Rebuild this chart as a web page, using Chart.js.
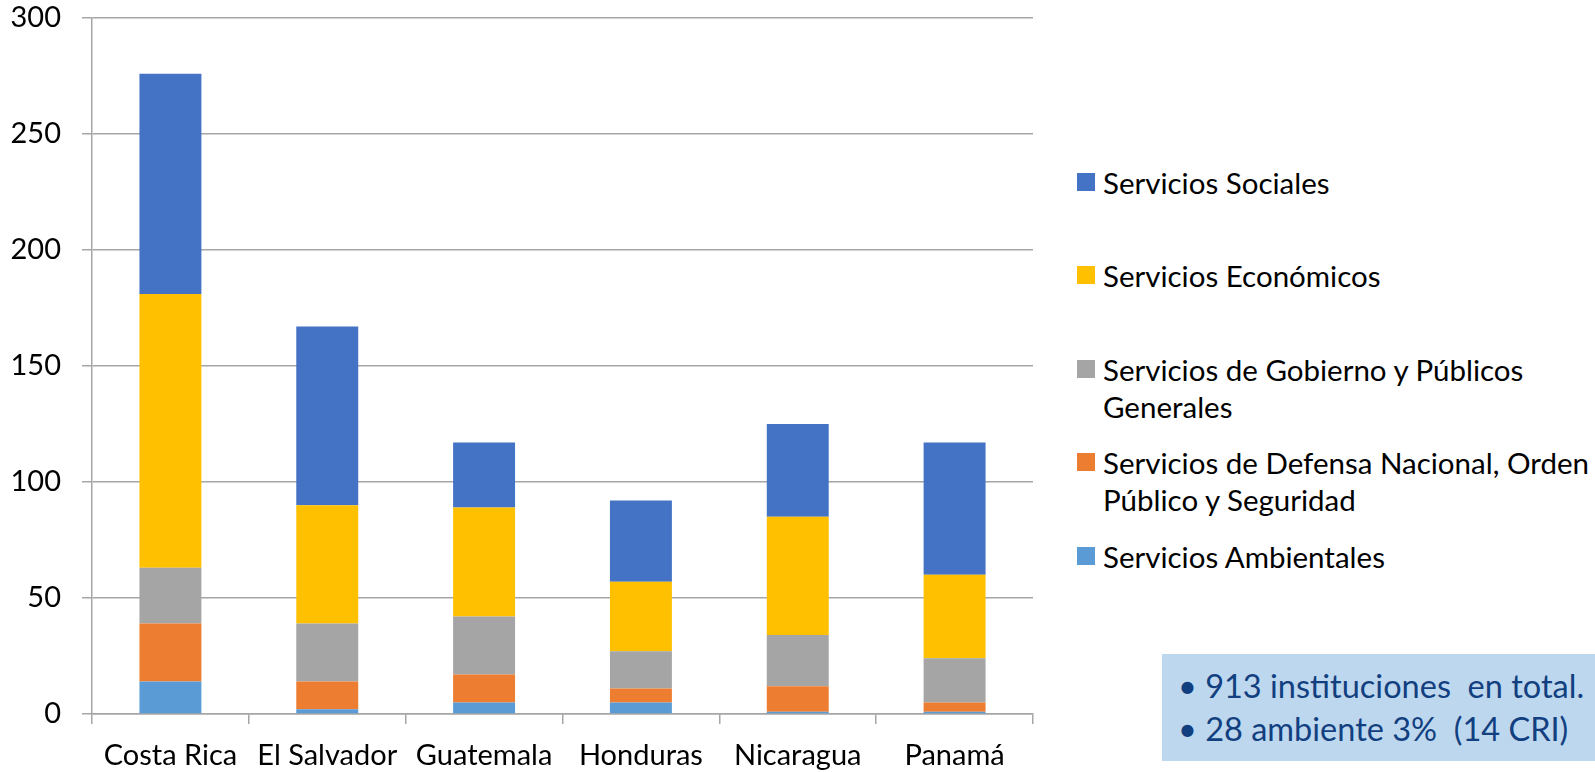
<!DOCTYPE html>
<html>
<head>
<meta charset="utf-8">
<script src="https://cdn.jsdelivr.net/npm/chart.js@4.4.1/dist/chart.umd.min.js"></script>
<style>
    body { margin: 0; background: #fff; }
    #wrap { position: relative; width: 1595px; height: 772px; overflow: hidden; font-family: Lato, "Open Sans", sans-serif; }
    #chartBox { position: absolute; left: 0; top: 0; width: 1040px; height: 772px; }
    .legend-item { position: absolute; left: 1077px; width: 520px; font-size: 29.5px; line-height: 37px; color: #000; }
    .legend-item .swatch { position: absolute; left: 0; top: 9px; width: 18px; height: 18px; }
    .legend-item .text { margin-left: 26px; white-space: nowrap; }
    #note { position: absolute; left: 1162px; top: 654px; width: 433px; height: 107px; background: #BDD7EE; color: #123F80; font-size: 32.5px; }
    #note div { position: absolute; left: 16px; white-space: nowrap; }
</style>
</head>
<body>
<div id="wrap">
    <div id="chartBox"><canvas id="chart" width="1040" height="772"></canvas></div>
    <div id="legend"></div>
    <div id="note">
        <div style="top: 12px;">• 913 instituciones&nbsp; en total.</div>
        <div style="top: 55px;">• 28 ambiente 3%&nbsp; (14 CRI)</div>
    </div>
</div>
<script>
// Data
const paises = ["Costa Rica", "El Salvador", "Guatemala", "Honduras", "Nicaragua", "Panamá"];
const ambientales = [14, 2, 5, 5, 1, 1];
const defensa = [25, 12, 12, 6, 11, 4];
const gobierno = [24, 25, 25, 16, 22, 19];
const economicos = [118, 51, 47, 30, 51, 36];
const sociales = [95, 77, 28, 35, 40, 57];
const yTicks = [0, 50, 100, 150, 200, 250, 300];

// series names, split in lines like the original legend
const nombres = [
    ["Servicios Ambientales"],
    ["Servicios de Defensa Nacional, Orden", "Público y Seguridad"],
    ["Servicios de Gobierno y Públicos", "Generales"],
    ["Servicios Económicos"],
    ["Servicios Sociales"],
];
const colores = ["#5B9BD5", "#ED7D31", "#A5A5A5", "#FFC000", "#4472C4"];
const series = [ambientales, defensa, gobierno, economicos, sociales];

const tickFont = { family: "Lato", size: 29 };

const ctx = document.getElementById("chart").getContext("2d");
new Chart(ctx, {
    type: "bar",
    data: {
        labels: paises,
        datasets: series.map((vals, i) => ({
            label: nombres[i].join(" "),
            data: vals,
            backgroundColor: colores[i],
            borderWidth: 0,
            barPercentage: 0.395,
            categoryPercentage: 1,
        })),
    },
    options: {
        responsive: false,
        animation: false,
        devicePixelRatio: 1,
        layout: { padding: { top: 18, right: 7, left: 0, bottom: 0 } },
        plugins: {
            legend: { display: false },
            tooltip: { enabled: false },
        },
        scales: {
            x: {
                stacked: true,
                grid: { drawOnChartArea: false, drawTicks: true, tickLength: 10, color: "#A6A6A6", lineWidth: 1.5 },
                border: { color: "#A6A6A6", width: 1.5 },
                ticks: { color: "#000", font: tickFont, padding: 14 },
                afterFit: (scale) => { scale.height = 58; scale.paddingLeft = 0; scale.paddingRight = 0; },
            },
            y: {
                stacked: true,
                min: yTicks[0],
                max: yTicks[yTicks.length - 1],
                afterBuildTicks: (scale) => { scale.ticks = yTicks.map(v => ({ value: v })); },
                grid: { color: "#A6A6A6", lineWidth: 1.5, tickLength: 10 },
                border: { color: "#A6A6A6", width: 1.5 },
                ticks: { color: "#000", font: tickFont, padding: 21 },
                afterFit: (scale) => { scale.width = 92; scale.paddingTop = 0; scale.paddingBottom = 0; },
            },
        },
    },
});

// Legend on the right (top to bottom = Sociales ... Ambientales)
const legend = document.getElementById("legend");
for (let k = 0; k < nombres.length; k++) {
    const i = nombres.length - 1 - k;
    const item = document.createElement("div");
    item.className = "legend-item";
    item.style.top = (182 + k * 93.5 - 18.5) + "px";
    item.innerHTML = `<span class="swatch" style="background:${colores[i]}"></span>` +
        `<div class="text">${nombres[i].join("<br>")}</div>`;
    legend.appendChild(item);
}
</script>
</body>
</html>
